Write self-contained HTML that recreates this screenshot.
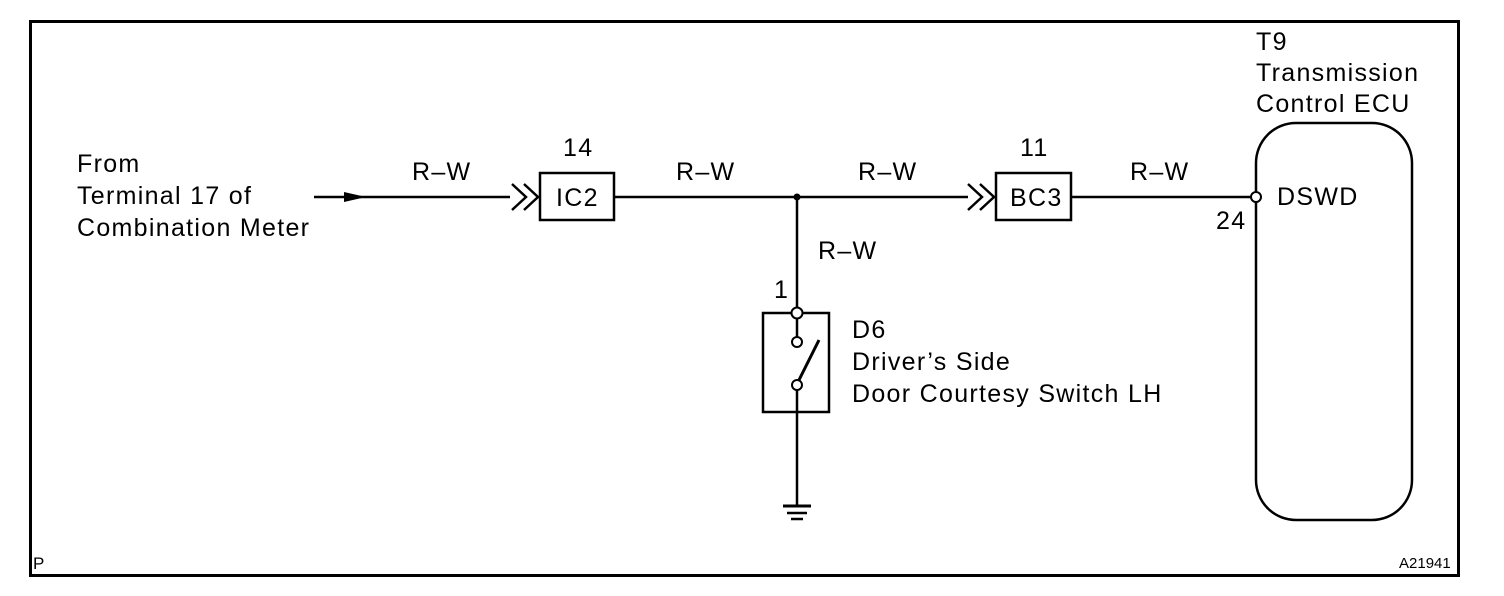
<!DOCTYPE html>
<html><head><style>
body{margin:0;background:#fff;}
svg{display:block;}
text{font-family:"Liberation Sans",Arial,sans-serif;font-size:25px;letter-spacing:1.3px;fill:#000;}
</style></head><body>
<svg width="1504" height="596" viewBox="0 0 1504 596" xmlns="http://www.w3.org/2000/svg">
<rect x="30.5" y="21.5" width="1428" height="554" fill="none" stroke="#000" stroke-width="3"/>
<text x="77" y="172">From</text>
<text x="77" y="204">Terminal 17 of</text>
<text x="77" y="236">Combination Meter</text>
<g stroke="#000" stroke-width="2.5" fill="none">
<line x1="314" y1="197" x2="510" y2="197"/>
<polyline points="512,184 526,197 512,210"/>
<polyline points="524,184 538,197 524,210"/>
<rect x="540" y="173" width="74" height="47"/>
<line x1="614" y1="197" x2="968" y2="197"/>
<polyline points="968,184 982,197 968,210"/>
<polyline points="980,184 994,197 980,210"/>
<rect x="996" y="173" width="75" height="47"/>
<line x1="1071" y1="197" x2="1251" y2="197"/>
<rect x="1256" y="123" width="156" height="397" rx="40"/>
<line x1="797" y1="197" x2="797" y2="308"/>
<rect x="763" y="313" width="66" height="99"/>
<line x1="797" y1="318" x2="797" y2="337"/>
<line x1="797" y1="390" x2="797" y2="505"/>
<line x1="799" y1="380" x2="819" y2="340" stroke-width="3"/>
<line x1="783" y1="506" x2="811" y2="506" stroke-width="3"/>
<line x1="787" y1="513" x2="807" y2="513"/>
<line x1="791" y1="519" x2="803" y2="519"/>
</g>
<polygon points="344,192 366,197 344,202" fill="#000"/>
<circle cx="797" cy="197" r="3.5" fill="#000"/>
<g stroke="#000" stroke-width="2" fill="#fff">
<circle cx="797" cy="313" r="5.5"/>
<circle cx="797" cy="342" r="5"/>
<circle cx="797" cy="385" r="5"/>
<circle cx="1256" cy="197" r="5"/>
</g>
<text x="412" y="180">R–W</text>
<text x="563" y="156">14</text>
<text x="556" y="206">IC2</text>
<text x="676" y="180">R–W</text>
<text x="858" y="180">R–W</text>
<text x="1020" y="156">11</text>
<text x="1010" y="206">BC3</text>
<text x="1130" y="180">R–W</text>
<text x="818" y="259">R–W</text>
<text x="774" y="298">1</text>
<text x="852" y="338">D6</text>
<text x="852" y="370">Driver’s Side</text>
<text x="852" y="402">Door Courtesy Switch LH</text>
<text x="1256" y="50">T9</text>
<text x="1256" y="81">Transmission</text>
<text x="1256" y="112">Control ECU</text>
<text x="1277" y="205">DSWD</text>
<text x="1216" y="229">24</text>
<text x="33" y="569" style="font-size:17px;letter-spacing:0">P</text>
<text x="1399" y="568" style="font-size:15px;letter-spacing:0">A21941</text>
</svg>
</body></html>
